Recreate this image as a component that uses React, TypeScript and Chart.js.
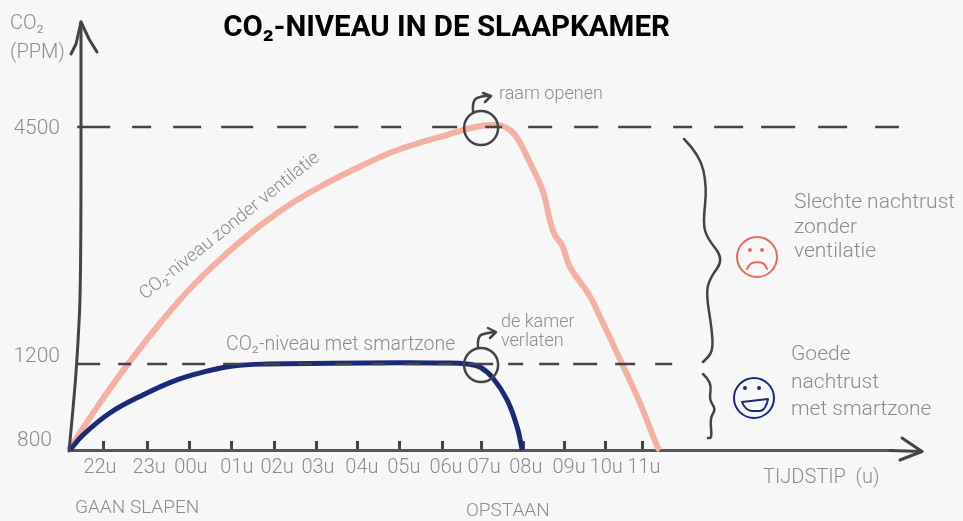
import React, { useEffect, useRef } from "react";
import { Chart, registerables, LinearScale } from "chart.js";

// ---- data (x = hours after 22u, y = CO2 in ppm) ----
const hourTicks = [0, 1.03, 2.05, 3.05, 4.06, 5.06, 6.06, 7.06, 8.09, 9.0, 10.02, 10.98, 11.96, 12.86];
const hourLabels = ["22u", "23u", "00u", "01u", "02u", "03u", "04u", "05u", "06u", "07u", "08u", "09u", "10u", "11u"];
const ppmTicks = [800, 1200, 4500];

const noVentHours = [-0.84, -0.64, -0.1, 0.5, 1.34, 2.12, 2.94, 3.72, 4.51, 5.32, 6.11, 6.99, 8.19, 8.97, 9.38, 9.57, 9.81, 10.17, 10.48, 10.64, 10.76, 10.93, 11.12, 11.55, 11.84, 12.32, 12.79, 13.22, 13.27];
const noVentPpm = [800, 860, 1018, 1181, 1771, 2290, 2745, 3125, 3450, 3720, 3950, 4176, 4392, 4514, 4528, 4500, 4389, 3998, 3595, 3205, 2996, 2857, 2550, 2188, 1854, 1256, 1019, 809, 800];

const smartHours = [-0.81, -0.5, 0.14, 0.93, 1.74, 2.46, 3.08, 3.89, 5.47, 7.06, 8.09, 8.66, 8.97, 9.28, 9.62, 9.86, 9.98];
const smartPpm = [800, 870, 972, 1056, 1126, 1167, 1191, 1200, 1210, 1218, 1214, 1200, 1186, 1135, 1033, 907, 800];

const limitHigh = { ppm: 4500, from: -0.64, to: 18.97 };
const limitLow = { ppm: 1200, from: -0.64, to: 13.56 };

// ---- style ----
const BG = "#f7f7f7";
const INK = "#444444";
const GREY = "#8c8c8c";
const PINK = "#f5b0a4";
const NAVY = "#1b2a78";
const RED = "#e8695a";
const FONT = "Roboto, sans-serif";
const DASH_HIGH = [33, 22, 19, 22, 28, 20, 32, 24, 29, 28, 24, 23, 20, 31, 25, 28, 17, 26, 24, 22, 24, 20, 33, 22, 19, 22, 29, 18, 34, 23, 29, 28, 24, 100];
const DASH_LOW = [23, 18, 13, 16, 20, 15, 23, 18, 20, 20, 17, 18, 14, 23, 17, 21, 12, 20, 15, 18, 15, 15, 25, 15, 15, 16, 20, 14, 24, 18, 20, 20, 17, 100];
const X_LABEL_SHIFT = [-4, 2, 1, 5, 3, 2, 4, 4, 3, 3, 2, 5, 1, 1];
const Y_LABEL_SHIFT: [number, number][] = [[-8, -9], [0, -7], [0, 2]];

// Axis whose value-to-pixel mapping is piecewise (the reference's y axis is not to scale)
class SketchScale extends LinearScale {
  static id = "sketch";
  static defaults = {};
  getPixelForValue(v: number) {
    const anchors = (this.options as any).anchors;
    if (!anchors) return super.getPixelForValue(v);
    let f = 0;
    if (v <= anchors[1][0]) {
      f = anchors[0][1] + ((v - anchors[0][0]) / (anchors[1][0] - anchors[0][0])) * (anchors[1][1] - anchors[0][1]);
    } else {
      f = anchors[1][1] + ((v - anchors[1][0]) / (anchors[2][0] - anchors[1][0])) * (anchors[2][1] - anchors[1][1]);
    }
    return this.getPixelForDecimal(f);
  }
  _computeLabelItems(area: any) {
    // @ts-ignore private method of the base scale
    const items = super._computeLabelItems(area);
    items.forEach((it: any, i: number) => {
      if (this.axis === "x") {
        it.options.translation[0] += X_LABEL_SHIFT[i] || 0;
      } else {
        const s = Y_LABEL_SHIFT[i] || [0, 0];
        it.options.translation[0] += s[0];
        it.options.translation[1] += s[1];
      }
    });
    return items;
  }
}

Chart.register(...registerables, SketchScale as any);

function poly(ctx: CanvasRenderingContext2D, pts: number[][]) {
  ctx.beginPath();
  ctx.moveTo(pts[0][0], pts[0][1]);
  for (let i = 1; i < pts.length - 1; i++) {
    const mx = (pts[i][0] + pts[i + 1][0]) / 2;
    const my = (pts[i][1] + pts[i + 1][1]) / 2;
    ctx.quadraticCurveTo(pts[i][0], pts[i][1], mx, my);
  }
  const l = pts[pts.length - 1];
  ctx.lineTo(l[0], l[1]);
  ctx.stroke();
}
function straight(ctx: CanvasRenderingContext2D, pts: number[][]) {
  ctx.beginPath();
  pts.forEach((p, i) => (i ? ctx.lineTo(p[0], p[1]) : ctx.moveTo(p[0], p[1])));
  ctx.stroke();
}

const sketchPlugin = {
  id: "sketch",
  afterDatasetsDraw(chart: any) {
    const ctx: CanvasRenderingContext2D = chart.ctx;
    const xs = chart.scales.x;
    const ys = chart.scales.y;
    ctx.save();
    ctx.lineCap = "round";
    ctx.lineJoin = "round";
    ctx.strokeStyle = INK;

    // hand-drawn y axis and arrowheads
    ctx.lineWidth = 3;
    poly(ctx, [[69, 451], [74, 400], [78, 345], [81, 280], [81, 22]]);
    straight(ctx, [[71, 54], [76, 44], [81, 22], [89, 39], [97, 52]]);
    straight(ctx, [[890, 450.5], [922, 451.5]]);
    straight(ctx, [[902, 438], [922, 451.5], [900, 460]]);

    // markers on the curves
    ctx.lineWidth = 2.5;
    const cx = xs.getPixelForValue(9);
    [ppmTicks[2], ppmTicks[1]].forEach((v) => {
      ctx.beginPath();
      ctx.arc(cx, ys.getPixelForValue(v) + 1, 17, 0, Math.PI * 2);
      ctx.stroke();
    });
    poly(ctx, [[473, 112], [472, 100], [482, 96], [490, 96]]);
    straight(ctx, [[483, 93], [491, 96], [485, 102]]);
    poly(ctx, [[478, 348], [477, 336], [487, 333], [495, 332]]);
    straight(ctx, [[488, 328], [496, 332], [490, 338]]);

    // braces
    poly(ctx, [[684, 139], [700, 155], [707, 187], [703, 223], [707, 238], [724, 259], [710, 278], [706, 293], [712, 330], [713, 352], [703, 362]]);
    poly(ctx, [[703, 374], [712, 382], [709, 400], [716, 409], [710, 418], [712, 438], [708, 438]]);

    // sad face
    ctx.strokeStyle = RED;
    ctx.fillStyle = RED;
    ctx.lineWidth = 2;
    ctx.beginPath(); ctx.arc(757, 257, 20, 0, Math.PI * 2); ctx.stroke();
    [750, 762].forEach((x) => { ctx.beginPath(); ctx.arc(x, 250, 2, 0, Math.PI * 2); ctx.fill(); });
    poly(ctx, [[747, 269], [750, 263], [757, 262], [764, 263], [767, 269]]);

    // happy face
    ctx.strokeStyle = NAVY;
    ctx.fillStyle = NAVY;
    ctx.beginPath(); ctx.arc(754, 398, 20, 0, Math.PI * 2); ctx.stroke();
    [745, 759].forEach((x) => { ctx.beginPath(); ctx.arc(x, 388, 2, 0, Math.PI * 2); ctx.fill(); });
    ctx.beginPath();
    ctx.moveTo(742, 402);
    ctx.lineTo(768, 399);
    ctx.quadraticCurveTo(766, 410, 760, 411);
    ctx.lineTo(752, 411);
    ctx.quadraticCurveTo(745, 410, 742, 402);
    ctx.closePath();
    ctx.stroke();

    // texts
    ctx.fillStyle = GREY;
    ctx.textBaseline = "middle";
    ctx.textAlign = "left";
    const put = (s: string, x: number, y: number, size: number) => {
      ctx.font = `300 ${size}px ${FONT}`;
      ctx.fillText(s, x, y);
    };
    put("CO₂", 10, 24, 20);
    put("(PPM)", 10, 53, 20);
    put("raam openen", 499, 94, 18);
    put("de kamer", 501, 322, 18);
    put("verlaten", 501, 341, 18);
    put("CO₂-niveau met smartzone", 226, 345, 19.5);
    put("GAAN SLAPEN", 75, 508, 19);
    put("OPSTAAN", 466, 511, 19);
    put("TIJDSTIP  (u)", 763, 478, 20);
    put("Slechte nachtrust", 794, 203, 21);
    put("zonder", 794, 228, 21);
    put("ventilatie", 794, 252, 21);
    put("Goede", 791, 355, 21);
    put("nachtrust", 791, 383, 21);
    put("met smartzone", 791, 410, 21);
    ctx.save();
    ctx.translate(145, 300);
    ctx.rotate((-38.7 * Math.PI) / 180);
    ctx.textBaseline = "alphabetic";
    ctx.font = `300 18.4px ${FONT}`;
    ctx.fillText("CO₂-niveau zonder ventilatie", 0, 0);
    ctx.restore();
    ctx.restore();
  },
};

const toXY = (xs: number[], ys: number[]) => xs.map((x, i) => ({ x, y: ys[i] }));

export default function App() {
  const ref = useRef<HTMLCanvasElement>(null);
  useEffect(() => {
    const base = { pointRadius: 0, pointHoverRadius: 0, fill: false };
    const chart = new Chart(ref.current!, {
      type: "line",
      data: {
        datasets: [
          {
            ...base,
            label: "Limiet 4500",
            data: [{ x: limitHigh.from, y: limitHigh.ppm }, { x: limitHigh.to, y: limitHigh.ppm }],
            borderColor: INK, borderWidth: 2.5, borderDash: DASH_HIGH, clip: false,
          },
          {
            ...base,
            label: "Limiet 1200",
            data: [{ x: limitLow.from, y: limitLow.ppm }, { x: limitLow.to, y: limitLow.ppm }],
            borderColor: INK, borderWidth: 2.5, borderDash: DASH_LOW, clip: false,
          },
          {
            ...base,
            label: "CO₂-niveau met smartzone",
            data: toXY(smartHours, smartPpm),
            borderColor: NAVY, borderWidth: 5, tension: 0.4, clip: false,
          },
          {
            ...base,
            label: "CO₂-niveau zonder ventilatie",
            data: toXY(noVentHours, noVentPpm),
            borderColor: PINK, borderWidth: 6, tension: 0.4, clip: false,
          },
        ] as any,
      },
      options: {
        responsive: false,
        animation: false,
        events: [],
        layout: { padding: { left: 0, right: 70, top: 0, bottom: 0 } },
        plugins: {
          legend: { display: false },
          tooltip: { enabled: false },
          title: {
            display: true,
            text: "CO₂-NIVEAU IN DE SLAAPKAMER",
            color: "#000000",
            font: { family: FONT, size: 29.5, weight: "bold", lineHeight: 1.2 },
            padding: { top: 11, bottom: 1.6 },
          },
        },
        scales: {
          x: {
            type: "sketch" as any,
            min: -0.835,
            max: 18.83,
            afterBuildTicks: (s: any) => { s.ticks = hourTicks.map((value) => ({ value })); },
            afterFit: (s: any) => { s.height = 71; },
            border: { display: true, color: "#555555", width: 3 },
            grid: { drawOnChartArea: false, drawTicks: true, tickLength: -9, tickWidth: 3, tickColor: INK },
            ticks: {
              autoSkip: false, maxRotation: 0, padding: 15, color: GREY,
              font: { family: FONT, size: 20, weight: "300" },
              callback: (_v: any, i: number) => hourLabels[i],
            },
          },
          y: {
            type: "sketch" as any,
            min: 800,
            max: 5600,
            anchors: [[800, 0], [1200, 86 / 402], [5600, 1]],
            afterBuildTicks: (s: any) => { s.ticks = ppmTicks.map((value) => ({ value })); },
            afterFit: (s: any) => { s.width = 69; },
            border: { display: false },
            grid: { display: false, drawTicks: false },
            ticks: {
              autoSkip: false, padding: 9, color: GREY,
              font: { family: FONT, size: 21, weight: "300" },
              callback: (v: any) => String(v),
            },
          },
        } as any,
      },
      plugins: [sketchPlugin],
    });
    return () => chart.destroy();
  }, []);
  return (
    <div style={{ position: "fixed", left: 0, top: 0, width: 963, height: 521, background: BG }}>
      <canvas ref={ref} width={963} height={521} style={{ display: "block" }} />
    </div>
  );
}
